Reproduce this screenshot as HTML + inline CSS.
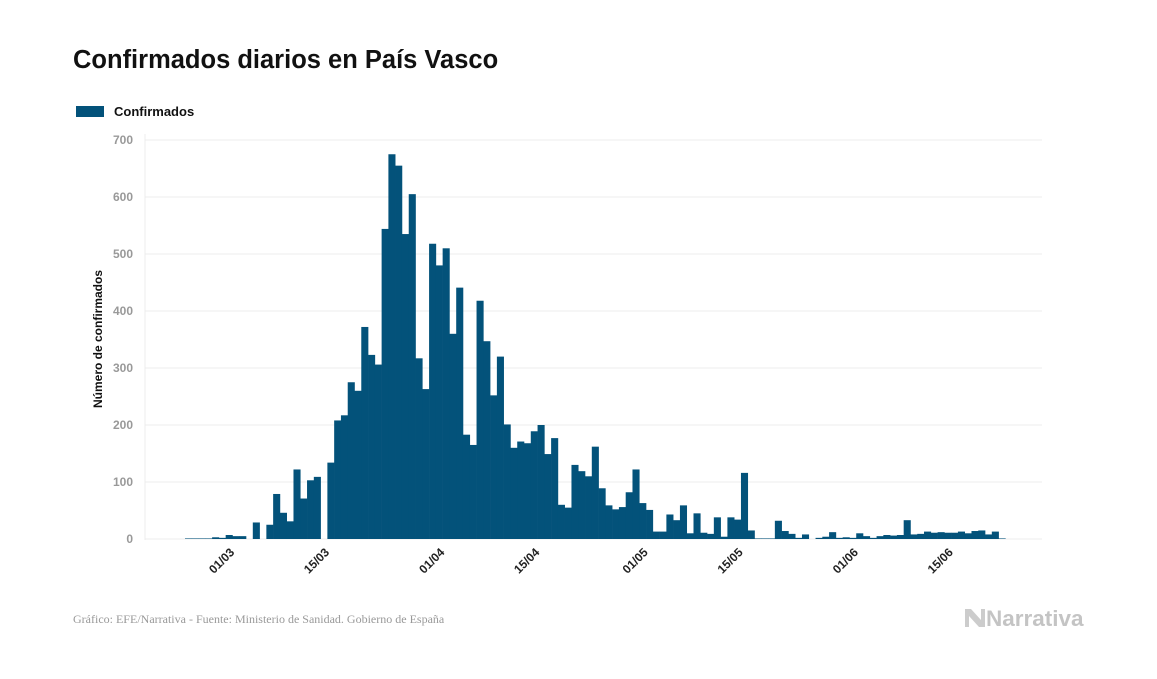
<!DOCTYPE html>
<html><head><meta charset="utf-8"><style>
body{margin:0;background:#fff;width:1157px;height:674px;overflow:hidden;font-family:"Liberation Sans",sans-serif}
</style></head><body>
<svg width="1157" height="674">
<text x="73" y="68" font-size="25.5" font-weight="bold" fill="#111">Confirmados diarios en País Vasco</text>
<rect x="76" y="106" width="28" height="11" fill="#03527a"/>
<text x="114" y="116" font-size="13" font-weight="bold" fill="#111">Confirmados</text>
<g id="grid"></g>
<g id="bars"></g>
<g id="xt"></g>
<text transform="translate(102,339) rotate(-90)" text-anchor="middle" font-size="12" font-weight="bold" fill="#111">Número de confirmados</text>
<text x="73" y="623" font-family="Liberation Serif,serif" font-size="12" fill="#999">Gráfico: EFE/Narrativa - Fuente: Ministerio de Sanidad. Gobierno de España</text>
<g>
<path d="M965 609 l6 0 l10 11 l0 -11 l4 0 l0 18 l-6 0 l-10 -11 l0 11 l-4 0z" fill="#ccc"/>
<text x="986" y="626" font-size="22.5" font-weight="bold" fill="#c4c4c4">Narrativa</text>
</g>
</svg>
<script>
const values=[1,1,1,1,3,2,7,5,5,0,29,0,25,79,46,31,122,71,103,109,0,134,208,217,275,260,372,323,306,544,675,655,535,605,317,263,
518,480,510,360,441,183,165,418,347,252,320,201,160,171,168,189,200,149,177,60,55,130,119,110,162,89,59,52,56,82,122,63,51,13,13,43,33,59,10,45,11,9,38,4,38,34,116,
15,1,1,1,32,14,9,2,8,0,2,4,12,2,3,2,10,5,2,5,7,6,7,33,8,9,13,11,12,11,11,13,10,14,15,8,13,1];
const yTicks=[0,100,200,300,400,500,600,700];
const xLabels=["01/03","15/03","01/04","15/04","01/05","15/05","01/06","15/06"];
const xLabelIdx=[6,20,37,51,67,81,98,112];
const NS="http://www.w3.org/2000/svg";
const X0=185,BW=6.78,Y0=539,YK=0.57;
const x=i=>X0+i*BW, y=v=>Y0-v*YK;
const grid=document.getElementById('grid'),bars=document.getElementById('bars'),xt=document.getElementById('xt');
function mk(tag,attrs,parent){const e=document.createElementNS(NS,tag);for(const k in attrs)e.setAttribute(k,attrs[k]);parent.appendChild(e);return e;}
mk('line',{x1:145,x2:145,y1:134,y2:540,stroke:'#eee'},grid);
yTicks.forEach(t=>{
 const l=mk('line',{x1:145,x2:1042,y1:y(t),y2:y(t),stroke:'#ececec','stroke-width':1},grid);
 
 
 const tx=mk('text',{x:133,y:y(t)+4,'text-anchor':'end','font-size':12,'font-weight':'bold',fill:'#999'},grid);
 tx.textContent=t;
 
 
});
values.forEach((v,i)=>{
 if(v<=0)return;
 const r=mk('rect',{x:x(i),y:y(v),width:BW+0.3,height:v*YK,fill:'#03527a'},bars);
 
 
});
xLabels.forEach((s,k)=>{
 const cx=x(xLabelIdx[k])+BW/2+6;
 const tx=mk('text',{transform:`translate(${cx},553) rotate(-45)`,'text-anchor':'end','font-size':12,'font-weight':'bold',fill:'#222'},xt);
 tx.textContent=s;
 
 
});
</script>
</body></html>
